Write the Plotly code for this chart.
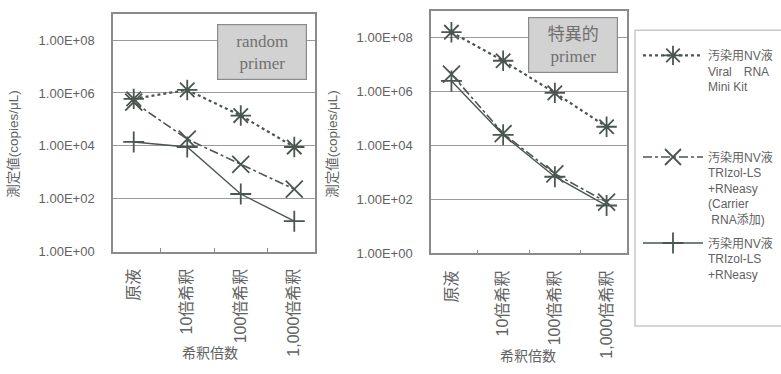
import plotly.graph_objects as go

# Dilution steps on the x axis
categories = ["原液", "10倍希釈", "100倍希釈", "1,000倍希釈"]

# Measured copies/uL, random primer
random_viral = [6.0e5, 1.3e6, 1.4e5, 9.0e3]
random_trizol_carrier = [4.5e5, 1.8e4, 2.0e3, 2.3e2]
random_trizol = [1.4e4, 9.0e3, 1.5e2, 1.4e1]

# Measured copies/uL, specific primer
specific_viral = [1.6e8, 1.4e7, 9.0e5, 5.0e4]
specific_trizol_carrier = [4.5e6, 2.8e4, 9.0e2, 8.0e1]
specific_trizol = [2.5e6, 2.5e4, 7.0e2, 6.0e1]

# Axis ticks
y_tickvals = [1e0, 1e2, 1e4, 1e6, 1e8]
y_ticktext = ["1.00E+00", "1.00E+02", "1.00E+04", "1.00E+06", "1.00E+08"]

series_names = [
    "汚染用NV液<br>Viral　RNA<br>Mini Kit<br> <br> <br> ",
    "汚染用NV液<br>TRIzol-LS<br>+RNeasy<br>(Carrier<br> RNA添加)",
    "汚染用NV液<br>TRIzol-LS<br>+RNeasy",
]

W, H = 781, 374
LINE = "#4b5650"
TEXT = "#626262"
GRID = "#9a9a9a"
FONT = "Liberation Sans, Noto Sans CJK JP, sans-serif"

styles = [
    dict(dash="dot", width=2.2, symbol="asterisk-open", size=17),
    dict(dash="dashdot", width=1.6, symbol="x-thin-open", size=17),
    dict(dash="solid", width=1.4, symbol="cross-thin-open", size=15),
]

fig = go.Figure()

panels = [
    ("x", "y", [random_viral, random_trizol_carrier, random_trizol], True),
    ("x2", "y2", [specific_viral, specific_trizol_carrier, specific_trizol], False),
]
for xa, ya, series, show in panels:
    for i, (name, vals, st) in enumerate(zip(series_names, series, styles)):
        fig.add_trace(go.Scatter(
            x=categories, y=vals, xaxis=xa, yaxis=ya,
            name=name, showlegend=show, legendgroup=f"g{i}",
            mode="lines+markers",
            line=dict(color=LINE, width=st["width"], dash=st["dash"]),
            marker=dict(symbol=st["symbol"], size=st["size"], color=LINE,
                        line=dict(color=LINE, width=1.8)),
        ))


def px_x(p):
    return p / W


def px_y(p):
    return 1 - p / H


xaxis_common = dict(
    type="category", showgrid=False, zeroline=False,
    showline=True, linecolor="#8a8a8a", linewidth=1.5, mirror=True,
    ticks="inside", tickson="boundaries", ticklen=4, tickcolor="#8a8a8a",
    tickangle=-90, ticklabelstandoff=9,
    tickfont=dict(family=FONT, size=16, color=TEXT),
)
yaxis_common = dict(
    type="log", range=[0, 9], tickvals=y_tickvals, ticktext=y_ticktext,
    showgrid=True, gridcolor=GRID, gridwidth=1, zeroline=False,
    showline=True, linecolor="#8a8a8a", linewidth=1.5, mirror=True,
    ticks="", ticklabelstandoff=14,
    tickfont=dict(family=FONT, size=13, color=TEXT),
)

fig.update_layout(
    width=W, height=H,
    margin=dict(l=0, r=0, t=0, b=0),
    paper_bgcolor="white", plot_bgcolor="white",
    xaxis=dict(domain=[px_x(113), px_x(315)], anchor="y", **xaxis_common),
    yaxis=dict(domain=[px_y(257), px_y(14)], anchor="x", **yaxis_common),
    xaxis2=dict(domain=[px_x(431), px_x(627)], anchor="y2", **xaxis_common),
    yaxis2=dict(domain=[px_y(259), px_y(11)], anchor="x2", **yaxis_common),
    legend=dict(
        x=px_x(638), y=px_y(42), xanchor="left", yanchor="top",
        valign="top", traceorder="grouped", tracegroupgap=5,
        bgcolor="rgba(0,0,0,0)", borderwidth=0, itemwidth=60,
        font=dict(family=FONT, size=12, color=TEXT),
    ),
    showlegend=True,
)

# Legend frame
fig.add_shape(type="rect", xref="paper", yref="paper",
              x0=px_x(635), x1=px_x(800), y0=px_y(333), y1=px_y(31),
              line=dict(color="#c8c8c8", width=1.5), fillcolor="rgba(0,0,0,0)")

# Panel labels
box_font = dict(family="Liberation Serif, Noto Sans CJK JP, serif", size=17, color="#707070")
for x, y, label in [(262, 53, "random<br>primer"), (573, 46, "特異的<br>primer")]:
    fig.add_annotation(xref="paper", yref="paper", x=px_x(x), y=px_y(y),
                       xanchor="center", yanchor="middle",
                       text=label, showarrow=False, font=box_font,
                       bgcolor="#d2d2d2", bordercolor="#8a8a8a", borderwidth=1.2,
                       width=86, height=52, align="center")

# Axis titles
for x, y in [(14, 147), (333, 147)]:
    fig.add_annotation(xref="paper", yref="paper", x=px_x(x), y=px_y(y),
                       xanchor="center", yanchor="middle",
                       text="測定値(copies/μL)", textangle=-90, showarrow=False,
                       font=dict(family=FONT, size=13.5, color=TEXT))
for x, y in [(210, 361), (528, 364)]:
    fig.add_annotation(xref="paper", yref="paper", x=px_x(x), y=px_y(y),
                       xanchor="center", yanchor="middle",
                       text="希釈倍数", showarrow=False,
                       font=dict(family=FONT, size=14, color=TEXT))

fig.write_html("out.html")
